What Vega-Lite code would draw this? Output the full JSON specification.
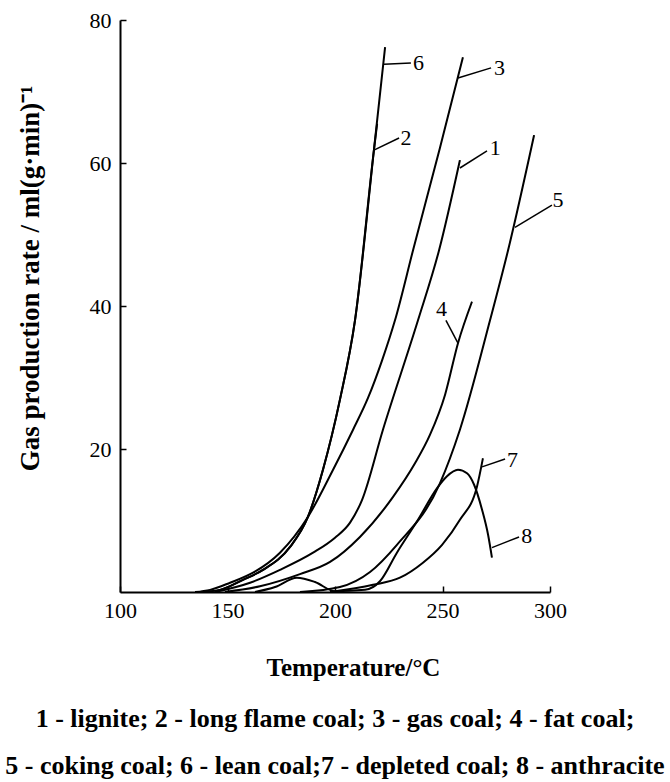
{
  "$schema": "https://vega.github.io/schema/vega-lite/v6.json",
  "width": 430,
  "height": 572,
  "autosize": {"type": "none"},
  "padding": {"left": 120, "top": 20, "right": 120, "bottom": 190},
  "background": "white",
  "config": {"view": {"stroke": null}, "font": "Liberation Serif"},
  "title": {
    "text": ["1 - lignite; 2 - long flame coal; 3 - gas coal; 4 - fat coal;", "5 - coking coal; 6 - lean coal;7 - depleted coal; 8 - anthracite"],
    "orient": "bottom",
    "anchor": "middle",
    "font": "Liberation Serif",
    "fontWeight": "bold",
    "fontSize": 26,
    "lineHeight": 47,
    "offset": 26,
    "color": "black"
  },
  "datasets": {
    "curves": [
      {"curve": "6", "T": 137.2, "G": 0},
      {"curve": "6", "T": 146.5, "G": 0.3},
      {"curve": "6", "T": 157.2, "G": 1.7},
      {"curve": "6", "T": 166.5, "G": 3.1},
      {"curve": "6", "T": 179.1, "G": 6.3},
      {"curve": "6", "T": 187.4, "G": 10.5},
      {"curve": "6", "T": 194.4, "G": 17.1},
      {"curve": "6", "T": 202.3, "G": 26.9},
      {"curve": "6", "T": 209.3, "G": 38.0},
      {"curve": "6", "T": 218.1, "G": 61.8},
      {"curve": "6", "T": 223.3, "G": 76.2},
      {"curve": "2", "T": 137.2, "G": 0},
      {"curve": "2", "T": 146.5, "G": 0.3},
      {"curve": "2", "T": 157.2, "G": 1.7},
      {"curve": "2", "T": 166.5, "G": 3.1},
      {"curve": "2", "T": 179.1, "G": 6.3},
      {"curve": "2", "T": 187.4, "G": 10.5},
      {"curve": "2", "T": 194.4, "G": 17.1},
      {"curve": "2", "T": 202.3, "G": 26.9},
      {"curve": "2", "T": 209.3, "G": 38.0},
      {"curve": "2", "T": 218.1, "G": 61.8},
      {"curve": "2", "T": 219.6, "G": 65.5},
      {"curve": "3", "T": 134.9, "G": 0},
      {"curve": "3", "T": 141.9, "G": 0.3},
      {"curve": "3", "T": 151.2, "G": 1.3},
      {"curve": "3", "T": 161.9, "G": 2.7},
      {"curve": "3", "T": 174.4, "G": 5.5},
      {"curve": "3", "T": 187.4, "G": 10.5},
      {"curve": "3", "T": 199.1, "G": 17.1},
      {"curve": "3", "T": 208.4, "G": 22.7},
      {"curve": "3", "T": 215.3, "G": 27.1},
      {"curve": "3", "T": 221.9, "G": 32.4},
      {"curve": "3", "T": 227.9, "G": 38.0},
      {"curve": "3", "T": 236.3, "G": 47.8},
      {"curve": "3", "T": 248.8, "G": 62.1},
      {"curve": "3", "T": 259.5, "G": 74.8},
      {"curve": "1", "T": 144.2, "G": 0},
      {"curve": "1", "T": 160.5, "G": 1.3},
      {"curve": "1", "T": 174.4, "G": 3.1},
      {"curve": "1", "T": 189.8, "G": 5.5},
      {"curve": "1", "T": 200.0, "G": 7.6},
      {"curve": "1", "T": 207.0, "G": 9.7},
      {"curve": "1", "T": 212.6, "G": 12.9},
      {"curve": "1", "T": 222.3, "G": 22.7},
      {"curve": "1", "T": 238.6, "G": 38.0},
      {"curve": "1", "T": 248.4, "G": 47.8},
      {"curve": "1", "T": 258.1, "G": 60.4},
      {"curve": "4", "T": 148.8, "G": 0},
      {"curve": "4", "T": 165.1, "G": 0.8},
      {"curve": "4", "T": 183.7, "G": 2.5},
      {"curve": "4", "T": 197.7, "G": 4.2},
      {"curve": "4", "T": 211.6, "G": 7.7},
      {"curve": "4", "T": 227.0, "G": 13.3},
      {"curve": "4", "T": 237.2, "G": 18.0},
      {"curve": "4", "T": 244.2, "G": 22.0},
      {"curve": "4", "T": 251.2, "G": 27.6},
      {"curve": "4", "T": 257.2, "G": 34.8},
      {"curve": "4", "T": 263.7, "G": 40.6},
      {"curve": "5", "T": 183.7, "G": 0},
      {"curve": "5", "T": 202.3, "G": 0.7},
      {"curve": "5", "T": 216.3, "G": 2.8},
      {"curve": "5", "T": 228.8, "G": 6.6},
      {"curve": "5", "T": 248.8, "G": 15.2},
      {"curve": "5", "T": 258.1, "G": 22.7},
      {"curve": "5", "T": 272.1, "G": 38.0},
      {"curve": "5", "T": 280.5, "G": 47.8},
      {"curve": "5", "T": 292.6, "G": 63.9},
      {"curve": "7", "T": 197.7, "G": 0},
      {"curve": "7", "T": 217.7, "G": 1.0},
      {"curve": "7", "T": 230.2, "G": 2.0},
      {"curve": "7", "T": 240.9, "G": 4.1},
      {"curve": "7", "T": 249.8, "G": 6.6},
      {"curve": "7", "T": 258.1, "G": 10.1},
      {"curve": "7", "T": 266.0, "G": 14.7},
      {"curve": "7", "T": 268.8, "G": 18.7},
      {"curve": "8", "T": 162.8, "G": 0},
      {"curve": "8", "T": 172.1, "G": 0.7},
      {"curve": "8", "T": 182.3, "G": 2.0},
      {"curve": "8", "T": 190.7, "G": 1.4},
      {"curve": "8", "T": 200.0, "G": 0.1},
      {"curve": "8", "T": 214.0, "G": 0.3},
      {"curve": "8", "T": 220.9, "G": 1.5},
      {"curve": "8", "T": 228.8, "G": 5.5},
      {"curve": "8", "T": 238.6, "G": 10.1},
      {"curve": "8", "T": 247.4, "G": 14.5},
      {"curve": "8", "T": 252.1, "G": 16.2},
      {"curve": "8", "T": 257.2, "G": 17.1},
      {"curve": "8", "T": 261.4, "G": 16.6},
      {"curve": "8", "T": 264.7, "G": 15.0},
      {"curve": "8", "T": 268.4, "G": 11.5},
      {"curve": "8", "T": 271.2, "G": 8.0},
      {"curve": "8", "T": 273.0, "G": 4.8}
    ],
    "labels": [
      {"id": "6", "x1": 222.8, "y1": 73.8, "x2": 235.3, "y2": 74.0, "tx": 236.3, "ty": 74.0},
      {"id": "3", "x1": 257.2, "y1": 71.9, "x2": 272.6, "y2": 73.3, "tx": 274.0, "ty": 73.3},
      {"id": "2", "x1": 218.1, "y1": 61.8, "x2": 229.8, "y2": 63.5, "tx": 230.5, "ty": 63.5},
      {"id": "1", "x1": 258.1, "y1": 59.3, "x2": 270.7, "y2": 61.7, "tx": 272.0, "ty": 62.1},
      {"id": "5", "x1": 283.7, "y1": 51.0, "x2": 300.9, "y2": 54.1, "tx": 301.2, "ty": 54.8},
      {"id": "4", "x1": 257.2, "y1": 34.8, "x2": 251.6, "y2": 38.0, "tx": 247.0, "ty": 39.6},
      {"id": "7", "x1": 268.4, "y1": 17.5, "x2": 279.1, "y2": 18.6, "tx": 280.0, "ty": 18.5},
      {"id": "8", "x1": 273.0, "y1": 6.2, "x2": 285.6, "y2": 7.7, "tx": 286.6, "ty": 7.8}
    ]
  },
  "layer": [
    {
      "data": {"name": "curves"},
      "mark": {"type": "line", "color": "black", "strokeWidth": 2, "interpolate": "monotone", "clip": false},
      "encoding": {
        "x": {
          "field": "T", "type": "quantitative",
          "scale": {"domain": [100, 300], "nice": false, "zero": false},
          "axis": {
            "values": [100, 150, 200, 250, 300],
            "title": "Temperature/°C",
            "titleFont": "Liberation Serif", "titleFontWeight": "bold", "titleFontSize": 25, "titleColor": "black",
            "titleX": 233, "titleY": 75, "titleBaseline": "middle",
            "labelFont": "Liberation Serif", "labelFontSize": 22, "labelColor": "black", "labelPadding": 14,
            "labelFlush": false,
            "tickSize": -6, "tickColor": "black", "tickWidth": 1.5,
            "domainColor": "black", "domainWidth": 2, "grid": false
          }
        },
        "y": {
          "field": "G", "type": "quantitative",
          "scale": {"domain": [0, 80], "nice": false},
          "axis": {
            "values": [20, 40, 60, 80],
            "title": "Gas production rate / ml(g·min)⁻¹",
            "titleFont": "Liberation Serif", "titleFontWeight": "bold", "titleFontSize": 27, "titleColor": "black",
            "titleX": -90, "titleY": 258, "titleBaseline": "middle",
            "labelFont": "Liberation Serif", "labelFontSize": 22, "labelColor": "black", "labelPadding": 15,
            "tickSize": -6, "tickColor": "black", "tickWidth": 1.5,
            "domainColor": "black", "domainWidth": 2, "grid": false
          }
        },
        "detail": {"field": "curve"}
      }
    },
    {
      "data": {"name": "labels"},
      "mark": {"type": "rule", "color": "black", "strokeWidth": 1.5, "clip": false},
      "encoding": {
        "x": {"field": "x1", "type": "quantitative"},
        "y": {"field": "y1", "type": "quantitative"},
        "x2": {"field": "x2"},
        "y2": {"field": "y2"}
      }
    },
    {
      "data": {"name": "labels"},
      "mark": {"type": "text", "align": "left", "baseline": "middle", "fontSize": 22, "font": "Liberation Serif", "color": "black"},
      "encoding": {
        "x": {"field": "tx", "type": "quantitative"},
        "y": {"field": "ty", "type": "quantitative"},
        "text": {"field": "id"}
      }
    }
  ]
}
